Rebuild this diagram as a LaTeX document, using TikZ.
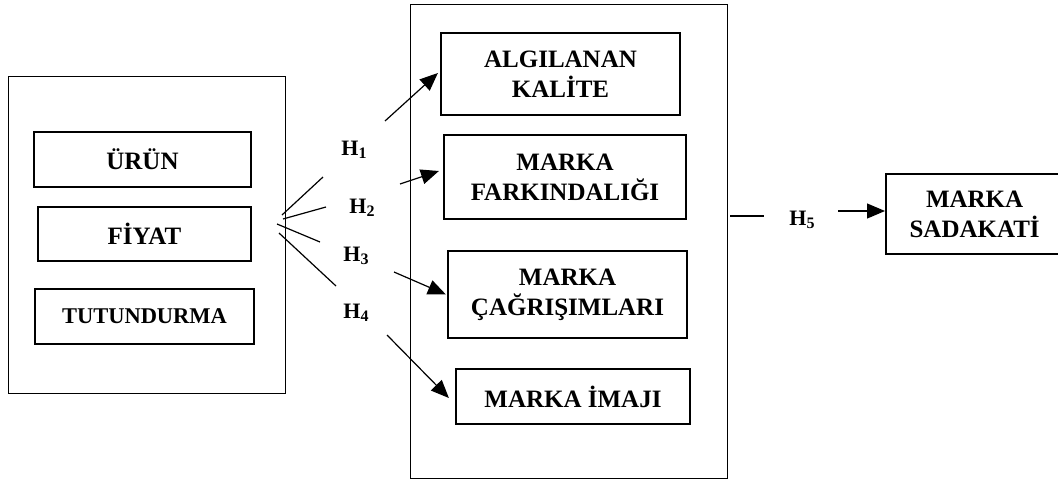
\documentclass[tikz,border=0pt]{standalone}
\usepackage{fontspec}
\setmainfont{Liberation Serif}
\usetikzlibrary{arrows.meta}
% hypothesis label: H with a lowered small digit
\newcommand\Hlab[1]{H\raisebox{-3pt}{\fontsize{16}{16}\selectfont #1}}
\begin{document}
\begin{tikzpicture}[x=1pt,y=-1pt,
  frame/.style={draw, line width=0.9pt, inner sep=0pt},
  box/.style={draw, line width=2.2pt, inner sep=0pt, align=center,
    font=\fontsize{25}{30}\selectfont\bfseries},
  smallbox/.style={box, font=\fontsize{22.5}{28}\selectfont\bfseries},
  hyp/.style={font=\fontsize{22}{22}\selectfont\bfseries, inner sep=0pt},
  link/.style={line width=1.2pt},
  arr/.style={line width=1.2pt, -{Triangle[length=18pt,width=15pt]}},
]
\useasboundingbox (0,0) rectangle (1058,480);
\clip (0,0) rectangle (1058,480);

% outer frames
\node[frame, minimum width=277pt, minimum height=317pt] (mix) at (146.5,234.5) {};
\node[frame, minimum width=317pt, minimum height=474pt] (equity) at (568.5,241) {};

% marketing mix elements
\node[box, minimum width=217pt, minimum height=55pt] (urun) at (142.5,159.5) {ÜRÜN};
\node[box, minimum width=213pt, minimum height=54pt] (fiyat) at (144.5,234) {FİYAT};
\node[smallbox, minimum width=219pt, minimum height=55pt] (tut) at (144.5,316.5) {TUTUNDURMA};

% brand equity dimensions
\node[box, minimum width=239pt, minimum height=82pt] (kal) at (560.5,74) {ALGILANAN\\KALİTE};
\node[box, minimum width=242pt, minimum height=84pt] (fark) at (565,177) {MARKA\\FARKINDALIĞI};
\node[box, minimum width=239pt, minimum height=87pt] (cag) at (567.5,294.5) {MARKA\\ÇAĞRIŞIMLARI};
\node[box, minimum width=234pt, minimum height=55pt] (imaj) at (573,396.5) {MARKA İMAJI};

% brand loyalty (box runs past the right edge)
\node[box, anchor=west, minimum height=80pt, text width=200pt, align=left] (sad) at (885,214)
  {\makebox[177pt]{MARKA}\\\makebox[177pt]{SADAKATİ}};

% hypothesis labels
\node[hyp] (h1) at (354,150) {\Hlab{1}};
\node[hyp] (h2) at (362,208) {\Hlab{2}};
\node[hyp] (h3) at (356,256) {\Hlab{3}};
\node[hyp] (h4) at (356,313) {\Hlab{4}};
\node[hyp] (h5) at (802,220) {\Hlab{5}};

% line ends around the labels
\coordinate (s1a) at (282,215); \coordinate (s1b) at (323,177);
\coordinate (s2a) at (283,219); \coordinate (s2b) at (326,207);
\coordinate (s3a) at (277,224); \coordinate (s3b) at (320,242);
\coordinate (s4a) at (279,233); \coordinate (s4b) at (336,286);
\coordinate (a1) at (385,121);
\coordinate (a2) at (400,184);
\coordinate (a3) at (394,272);
\coordinate (a4) at (387,335);
\coordinate (s5a) at (730,216); \coordinate (s5b) at (764,216);
\coordinate (a5) at (838,211);

% lines leaving the marketing mix
\draw[link] (s1a) -- (s1b);
\draw[link] (s2a) -- (s2b);
\draw[link] (s3a) -- (s3b);
\draw[link] (s4a) -- (s4b);
\draw[link] (s5a) -- (s5b);

% arrows into the dimensions
\draw[arr] (a1) -- ([shift={(-2pt,1pt)}]kal.west);
\draw[arr] (a2) -- ([shift={(-4pt,6pt)}]fark.west);
\draw[arr] (a3) -- ([shift={(-1pt,0pt)}]cag.west);
\draw[arr] (a4) -- ([shift={(-6pt,-1.5pt)}]imaj.west);
\draw[arr] (a5) -- ([yshift=3pt]sad.west);
\end{tikzpicture}
\end{document}
